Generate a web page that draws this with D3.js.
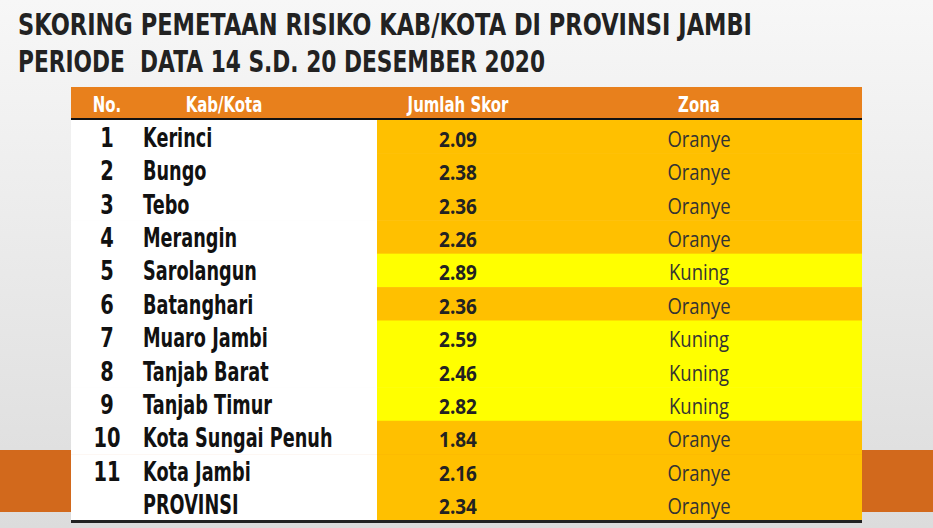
<!DOCTYPE html>
<html><head><meta charset="utf-8">
<script src="https://cdn.jsdelivr.net/npm/d3@7"></script>
<style>body{margin:0;background:#ececec;}</style>
</head><body>
<script>
// table data
var nums = ["1","2","3","4","5","6","7","8","9","10","11",""];
var regions = ["Kerinci","Bungo","Tebo","Merangin","Sarolangun","Batanghari","Muaro Jambi","Tanjab Barat","Tanjab Timur","Kota Sungai Penuh","Kota Jambi","PROVINSI"];
var scores = [2.09,2.38,2.36,2.26,2.89,2.36,2.59,2.46,2.82,1.84,2.16,2.34];
var zones = ["Oranye","Oranye","Oranye","Oranye","Kuning","Oranye","Kuning","Kuning","Kuning","Oranye","Oranye","Oranye"];
var headers = ["No.","Kab/Kota","Jumlah Skor","Zona"];

var W = 933, H = 528;
var cond = "'DejaVu Sans',sans-serif";
var svg = d3.select("body").append("svg").attr("width", W).attr("height", H);

// squeeze bold text horizontally to mimic a condensed face
function squeeze(sel, k) {
  sel.each(function() {
    var len = this.getComputedTextLength();
    d3.select(this).attr("textLength", len * k).attr("lengthAdjust", "spacingAndGlyphs");
  });
}

// background with orange band
var g = svg.append("defs").append("linearGradient").attr("id","bg").attr("x1",0).attr("x2",0).attr("y1",0).attr("y2",1);
g.append("stop").attr("offset","0%").attr("stop-color","#f7f7f7");
g.append("stop").attr("offset","100%").attr("stop-color","#dcdcdc");
svg.append("rect").attr("width",W).attr("height",H).attr("fill","url(#bg)");
svg.append("rect").attr("y",450).attr("width",W).attr("height",62).attr("fill","#d2691c");

// title: smaller font stretched vertically, so its natural width stays on the page
svg.append("text").attr("transform","translate(18,35) scale(1,1.25)").style("font-family",cond).style("font-weight","bold")
  .style("font-size","24px").attr("fill","#222").text("SKORING PEMETAAN RISIKO KAB/KOTA DI PROVINSI JAMBI")
  .attr("textLength",734).attr("lengthAdjust","spacingAndGlyphs");
svg.append("text").attr("transform","translate(18,72) scale(1,1.25)").style("font-family",cond).style("font-weight","bold")
  .style("font-size","24px").attr("fill","#222").attr("xml:space","preserve").text("PERIODE  DATA 14 S.D. 20 DESEMBER 2020")
  .attr("textLength",527).attr("lengthAdjust","spacingAndGlyphs");

var x0 = 71, x1 = 862;
var y = d3.scaleBand().domain(d3.range(regions.length)).range([120, 521]);
var zoneColor = d3.scaleOrdinal().domain(["Oranye","Kuning"]).range(["#ffc000","#ffff00"]);

// header
svg.append("rect").attr("x",x0).attr("y",87).attr("width",x1-x0).attr("height",32).attr("fill","#e8801c");
svg.append("rect").attr("x",x0).attr("y",118).attr("width",x1-x0).attr("height",2.5).attr("fill","#111");
var hx = [107, 224, 458, 699];
svg.selectAll(".hd").data(headers).join("text")
  .attr("x",(d,i)=>hx[i]).attr("y",112).attr("text-anchor","middle")
  .style("font-family",cond).style("font-weight","bold").style("font-size","22px").attr("fill","#fff").text(d=>d)
  .call(squeeze, 0.68);

// rows
var rows = svg.selectAll(".row").data(regions).join("g").attr("transform",(d,i)=>"translate(0,"+y(i)+")");
rows.append("rect").attr("x",x0).attr("width",377-x0).attr("height",y.bandwidth()+0.5).attr("fill","#fff");
rows.append("rect").attr("x",377).attr("width",x1-377).attr("height",y.bandwidth()+0.5).attr("fill",(d,i)=>zoneColor(zones[i]));
var ty = y.bandwidth()/2 + 10;
rows.append("text").attr("x",107).attr("y",ty).attr("text-anchor","middle")
  .style("font-family",cond).style("font-weight","bold").style("font-size","27px").attr("fill","#111").text((d,i)=>nums[i])
  .call(squeeze, 0.72);
rows.append("text").attr("x",143).attr("y",ty)
  .style("font-family",cond).style("font-weight","bold").style("font-size","26px").attr("fill","#111").text(d=>d)
  .call(squeeze, 0.68);
rows.append("text").attr("x",458).attr("y",ty).attr("text-anchor","middle")
  .style("font-family","'Open Sans',sans-serif").style("font-weight","bold").style("font-size","21px").attr("fill","#222")
  .text((d,i)=>d3.format(".2f")(scores[i]))
  .call(squeeze, 0.9);
rows.append("text").attr("x",699).attr("y",ty).attr("text-anchor","middle")
  .style("font-family","'Open Sans',sans-serif").style("font-size","21px").attr("fill","#333").text((d,i)=>zones[i])
  .call(squeeze, 0.88);

svg.append("rect").attr("x",x0).attr("y",520).attr("width",x1-x0).attr("height",3).attr("fill","#222");
</script>
</body></html>
